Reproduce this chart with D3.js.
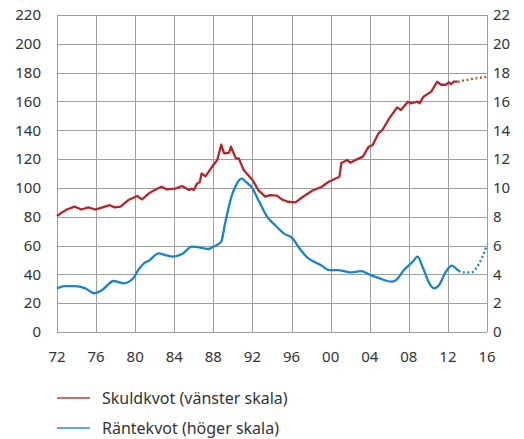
<!DOCTYPE html>
<html>
<head>
<meta charset="utf-8">
<script src="https://cdn.jsdelivr.net/npm/d3@7"></script>
<style>
  body { margin: 0; background: #fff; }
  text { font-family: "Noto Sans", "Open Sans", sans-serif; fill: #333; }
</style>
</head>
<body>
<div id="chart"></div>
<script>
// Skuldkvot, left scale (per cent of disposable income)
const skuldYears = [1972.0, 1972.5, 1973.0, 1973.8, 1974.5, 1975.2, 1975.9, 1976.4, 1976.9, 1977.4, 1977.9, 1978.5,
    1979.3, 1980.2, 1980.7, 1981.5, 1982.0, 1982.7, 1983.2, 1984.1, 1984.8, 1985.5, 1985.8, 1986.0, 1986.3, 1986.6,
    1986.8, 1987.2, 1987.9, 1988.4, 1988.8, 1989.1, 1989.6, 1989.8, 1990.3, 1990.6, 1991.1, 1992.0, 1992.6, 1993.3,
    1993.8, 1994.5, 1995.0, 1995.6, 1996.4, 1997.1, 1998.1, 1999.1, 1999.8, 2000.9, 2001.1, 2001.7, 2002.0, 2002.9,
    2003.3, 2003.9, 2004.3, 2004.9, 2005.3, 2006.0, 2006.8, 2007.2, 2007.9, 2008.2, 2008.9, 2009.1, 2009.5, 2010.3,
    2010.9, 2011.3, 2011.8, 2012.1, 2012.3, 2012.6, 2013.0];
const skuldVals = [80.5, 83, 85, 87, 85, 86.5, 85, 86, 87, 88, 86.5, 87,
    91.6, 94.4, 92, 96.7, 98.5, 100.8, 99, 99.5, 101.3, 98.5, 99.5, 98.5, 102.7, 104,
    110, 108, 115, 119.4, 130, 124, 124.4, 128.6, 120.5, 120.5, 112.4, 105.5, 98.5, 94,
    95, 94.6, 92, 90.4, 90, 93.5, 98, 100.8, 104.3, 107.8, 117.3, 119.4, 117.5, 120.5,
    121.7, 128.6, 129.8, 137.9, 140.2, 148.3, 155.9, 154, 159.8, 158.7, 159.8, 158.7, 163.3, 166.8,
    173.7, 171.6, 171.6, 173.3, 171.9, 173.7, 173.7];
const skuldProgYears = [2013.0, 2014.5, 2016.0];
const skuldProgVals = [173.7, 175.6, 177.2];

// Räntekvot, right scale (per cent)
const ranteYears = [1972.0, 1972.8, 1973.8, 1974.9, 1975.8, 1976.6, 1977.8, 1978.8, 1979.8, 1980.3, 1980.9, 1981.4,
    1982.4, 1983.1, 1983.9, 1984.8, 1985.8, 1986.5, 1987.5, 1988.0, 1988.8, 1989.2, 1989.9, 1990.4, 1990.9, 1991.3,
    1992.0, 1992.6, 1993.5, 1994.4, 1995.2, 1996.1, 1996.8, 1997.6, 1998.3, 1999.0, 1999.8, 2000.7, 2002.0, 2003.1,
    2004.1, 2005.1, 2006.2, 2006.7, 2007.5, 2008.4, 2008.9, 2009.4, 2010.1, 2010.6, 2011.1, 2011.8, 2012.4, 2012.8,
    2013.1];
const ranteVals = [3.03, 3.19, 3.19, 3.03, 2.69, 2.91, 3.54, 3.38, 3.73, 4.3, 4.77, 4.95,
    5.46, 5.34, 5.23, 5.41, 5.92, 5.88, 5.76, 5.92, 6.27, 7.54, 9.5, 10.3, 10.64, 10.43,
    9.97, 9.16, 8.0, 7.36, 6.85, 6.5, 5.81, 5.18, 4.88, 4.65, 4.3, 4.3, 4.14, 4.22,
    3.95, 3.7, 3.49, 3.61, 4.3, 4.88, 5.23, 4.53, 3.38, 3.03, 3.26, 4.19, 4.6, 4.42,
    4.25];
const ranteProgYears = [2013.1, 2013.5, 2014.4, 2015.0, 2016.0];
const ranteProgVals = [4.25, 4.14, 4.14, 4.53, 6.03];

const xTicks = d3.range(1972, 2017, 4);
const leftTicks = d3.range(0, 221, 20);
const rightTicks = d3.range(0, 23, 2);
const legendLabels = ["Skuldkvot (vänster skala)", "Räntekvot (höger skala)"];

const red = "#b2262d", redProg = "#a8602e", blue = "#1a84c7";

const width = 524, height = 439;
const margin = {top: 15, right: 37, bottom: 107, left: 57};

const svg = d3.select("#chart").append("svg")
    .attr("width", width)
    .attr("height", height);

const x = d3.scaleLinear().domain([1972, 2016]).range([margin.left, width - margin.right]);
const yL = d3.scaleLinear().domain([0, 220]).range([height - margin.bottom, margin.top]);
const yR = d3.scaleLinear().domain([0, 22]).range([height - margin.bottom, margin.top]);

// grid
const grid = svg.append("g").attr("stroke", "#9e9e9e").attr("stroke-width", 1);
grid.selectAll("line.h").data(leftTicks).join("line")
    .attr("x1", x.range()[0]).attr("x2", x.range()[1])
    .attr("y1", d => Math.round(yL(d)) + 0.5).attr("y2", d => Math.round(yL(d)) + 0.5);
grid.selectAll("line.v").data(xTicks).join("line")
    .attr("x1", d => Math.round(x(d)) + 0.5).attr("x2", d => Math.round(x(d)) + 0.5)
    .attr("y1", yL.range()[0]).attr("y2", yL.range()[1]);

// axes labels
svg.append("g").selectAll("text").data(leftTicks).join("text")
    .attr("x", margin.left - 16).attr("y", d => yL(d))
    .attr("dy", "0.35em").attr("text-anchor", "end")
    .style("font-size", "15px").text(d => d);
svg.append("g").selectAll("text").data(rightTicks).join("text")
    .attr("x", width - margin.right + 6).attr("y", d => yR(d))
    .attr("dy", "0.35em").attr("text-anchor", "start")
    .style("font-size", "15px").text(d => d);
svg.append("g").selectAll("text").data(xTicks).join("text")
    .attr("x", d => x(d)).attr("y", height - margin.bottom + 25)
    .attr("dy", "0.35em").attr("text-anchor", "middle")
    .style("font-size", "15px").text(d => String(d).slice(2));

// lines
const zip = (xs, ys) => xs.map((v, i) => [v, ys[i]]);
const lineL = d3.line().x(d => x(d[0])).y(d => yL(d[1]));
const lineR = d3.line().x(d => x(d[0])).y(d => yR(d[1])).curve(d3.curveMonotoneX);

svg.append("path").attr("d", lineR(zip(ranteYears, ranteVals)))
    .attr("fill", "none").attr("stroke", blue).attr("stroke-width", 2.3);
svg.append("path").attr("d", lineR(zip(ranteProgYears, ranteProgVals)))
    .attr("fill", "none").attr("stroke", blue).attr("stroke-width", 2.3)
    .attr("stroke-dasharray", "2,2.5");

svg.append("path").attr("d", lineL(zip(skuldYears, skuldVals)))
    .attr("fill", "none").attr("stroke", red).attr("stroke-width", 2.3)
    .attr("stroke-linejoin", "round");
svg.append("path").attr("d", lineL.curve(d3.curveMonotoneX)(zip(skuldProgYears, skuldProgVals)))
    .attr("fill", "none").attr("stroke", redProg).attr("stroke-width", 2.3)
    .attr("stroke-dasharray", "2,2.5");

// legend
const legend = svg.append("g").selectAll("g").data(legendLabels).join("g")
    .attr("transform", (d, i) => `translate(57,${398 + i * 30})`);
legend.append("line").attr("x1", 0).attr("x2", 33)
    .attr("stroke", (d, i) => i === 0 ? "#c23b3b" : "#1f8fd6").attr("stroke-width", 1.5);
legend.append("text").attr("x", 45).attr("dy", "0.35em")
    .style("font-size", "16px").text(d => d);
</script>
</body>
</html>
